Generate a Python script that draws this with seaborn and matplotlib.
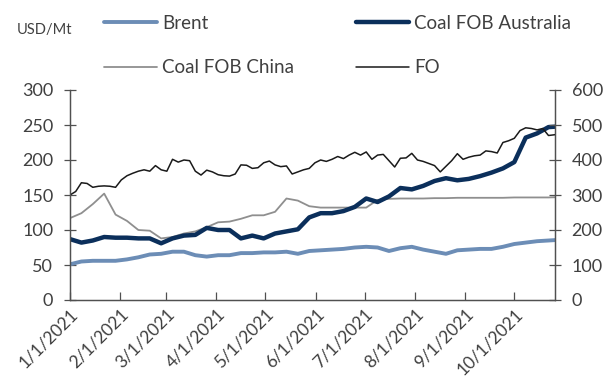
import numpy as np
import pandas as pd
import matplotlib
matplotlib.use('Agg')
import matplotlib.pyplot as plt
import matplotlib.dates as mdates
from matplotlib.ticker import FuncFormatter, MultipleLocator
import seaborn as sns

# weekly series (left axis, USD/Mt)
weeks = pd.date_range('2021-01-01', periods=44, freq='7D')
brent = [51, 55, 56, 56, 56, 58, 61, 65, 66, 69,
         69, 64, 62, 64, 64, 67, 67, 68, 68, 69,
         66, 70, 71, 72, 73, 75, 76, 75, 70, 74,
         76, 72, 69, 66, 71, 72, 73, 73, 76, 80,
         82, 84, 85, 86]
coal_aus = [87, 82, 85, 90, 89, 89, 88, 88, 81, 88,
            92, 93, 103, 100, 100, 88, 92, 88, 95, 98,
            101, 118, 124, 124, 127, 133, 145, 140, 148, 160,
            158, 163, 170, 174, 171, 173, 177, 182, 188, 197,
            232, 238, 247, 248]
coal_china = [117, 124, 137, 152, 122, 113, 100, 99, 88, 90,
              95, 98, 104, 111, 112, 116, 121, 121, 126, 145,
              142, 134, 132, 132, 132, 132, 132, 143, 144.5, 145,
              145, 145, 145.5, 145.5, 146, 146, 146, 146, 146, 146.5,
              146.5, 146.5, 146.5, 147]

# twice-weekly FO (right axis)
fo_dates = pd.date_range('2021-01-01', periods=87, freq='84h')
fo = [300, 310, 335, 333, 322, 325, 326, 325, 322, 343,
      355, 362, 368, 372, 368, 384, 372, 368, 402, 394,
      400, 398, 368, 357, 371, 366, 358, 355, 354, 360,
      386, 385, 376, 378, 392, 397, 386, 381, 383, 360,
      366, 372, 376, 392, 400, 396, 402, 410, 404, 414,
      422, 414, 423, 402, 414, 416, 398, 380, 405, 406,
      419, 400, 396, 390, 384, 366, 382, 398, 418, 402,
      408, 412, 414, 426, 424, 420, 450, 455, 462, 484,
      492, 490, 486, 490, 470, 472, 475]

sns.set_style('ticks')
plt.rcParams['font.family'] = ['Lato', 'DejaVu Sans']
txt = '#404040'
axc = '#505050'

fig = plt.figure(figsize=(6.05, 3.87), dpi=100)
ax = fig.add_axes([70/605, 87/387, 485/605, 210/387])
ax2 = ax.twinx()

sns.lineplot(x=weeks, y=brent, ax=ax, color='#6C8DB6', lw=2.8, label='Brent')
sns.lineplot(x=weeks, y=coal_china, ax=ax, color='#8F8F8F', lw=1.3, label='Coal FOB China')
sns.lineplot(x=weeks, y=coal_aus, ax=ax, color='#0B2F5B', lw=3.2, label='Coal FOB Australia')
sns.lineplot(x=fo_dates, y=fo, ax=ax2, color='#1A1A1A', lw=1.1, label='FO')

ax.set_ylim(0, 300)
ax2.set_ylim(0, 600)
ax.set_xlim(pd.Timestamp('2021-01-01'), pd.Timestamp('2021-10-26'))
ax.yaxis.set_major_locator(MultipleLocator(50))
ax2.yaxis.set_major_locator(MultipleLocator(100))
ax.xaxis.set_major_locator(mdates.MonthLocator())
ax.xaxis.set_major_formatter(FuncFormatter(
    lambda v, p: (lambda d: f'{d.month}/{d.day}/{d.year}')(mdates.num2date(v))))

for a in (ax, ax2):
    a.set_xlabel('')
    a.set_ylabel('')
    a.spines['top'].set_visible(False)
    for s in ('left', 'right', 'bottom'):
        a.spines[s].set_color(axc)
        a.spines[s].set_linewidth(0.9)
    a.tick_params(axis='y', direction='inout', length=8, width=0.9, color=axc,
                  labelsize=13, labelcolor=txt, pad=8)
    if a.get_legend():
        a.get_legend().remove()
ax.tick_params(axis='x', direction='in', length=6, width=0.9, color=axc,
               labelsize=12.5, labelcolor=txt, pad=4)
plt.setp(ax.get_xticklabels(), rotation=45, ha='right', rotation_mode='anchor')

h1, l1 = ax.get_legend_handles_labels()
h2, l2 = ax2.get_legend_handles_labels()
handles = dict(zip(l1 + l2, h1 + h2))
order = ['Brent', 'Coal FOB China', 'Coal FOB Australia', 'FO']
leg = fig.legend([handles[k] for k in order], order, ncol=2, loc='upper left',
                 bbox_to_anchor=(104/605, 1 - 15/387), frameon=False, fontsize=13.5,
                 handlelength=2.8, handletextpad=0.3, columnspacing=3.3,
                 labelspacing=1.45, borderpad=0, borderaxespad=0)
for t in leg.get_texts():
    t.set_color(txt)

fig.text(17/605, 1 - 30/387, 'USD/Mt', fontsize=10.5, color=txt, va='center', ha='left')

fig.savefig('out.png', dpi=100)
